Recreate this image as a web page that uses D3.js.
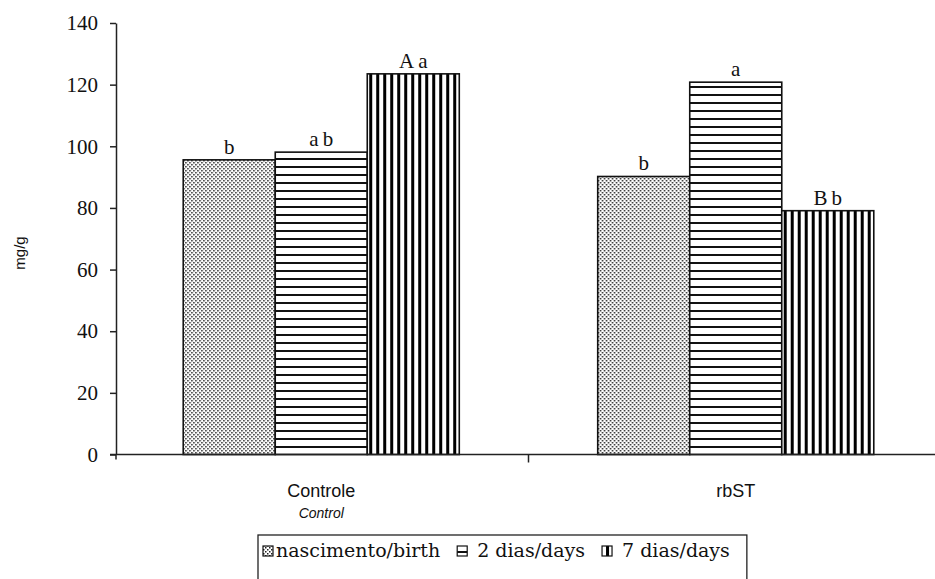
<!DOCTYPE html>
<html>
<head>
<meta charset="utf-8">
<script src="https://cdn.jsdelivr.net/npm/d3@7"></script>
<style>
body { margin: 0; background: #fff; }
.serif { font-family: "Liberation Serif", "DejaVu Serif", serif; }
.wide { font-family: "DejaVu Serif", "Liberation Serif", serif; }
.sans { font-family: "Liberation Sans", Arial, sans-serif; }
</style>
</head>
<body>
<svg id="chart" width="935" height="579"></svg>
<script>
// data
var groups = ["Controle", "rbST"];
var groupsEn = ["Control", ""];
var series = ["nascimento/birth", "2 dias/days", "7 dias/days"];
var birth = [95.6, 90.2];
var days2 = [98.1, 120.8];
var days7 = [123.5, 79.1];
var letters = [["b", "ab", "Aa"], ["b", "a", "Bb"]];
var yTicks = [0, 20, 40, 60, 80, 100, 120, 140];

var svg = d3.select("#chart");
var defs = svg.append("defs");

// fill patterns
var pDots = defs.append("pattern").attr("id", "pDots")
    .attr("patternUnits", "userSpaceOnUse").attr("width", 4).attr("height", 4);
pDots.append("rect").attr("width", 4).attr("height", 4).attr("fill", "#fff");
pDots.append("rect").attr("x", 0).attr("y", 0).attr("width", 1.5).attr("height", 1.5).attr("fill", "#222");
pDots.append("rect").attr("x", 2).attr("y", 2).attr("width", 1.5).attr("height", 1.5).attr("fill", "#222");

var pHor = defs.append("pattern").attr("id", "pHor")
    .attr("patternUnits", "userSpaceOnUse").attr("width", 8).attr("height", 8);
pHor.append("rect").attr("width", 8).attr("height", 8).attr("fill", "#fff");
pHor.append("rect").attr("y", 6).attr("width", 8).attr("height", 2).attr("fill", "#111");

var pVer = defs.append("pattern").attr("id", "pVer")
    .attr("patternUnits", "userSpaceOnUse").attr("width", 7).attr("height", 7);
pVer.append("rect").attr("width", 7).attr("height", 7).attr("fill", "#fff");
pVer.append("rect").attr("x", 4).attr("width", 3).attr("height", 7).attr("fill", "#000");

var fills = ["url(#pDots)", "url(#pHor)", "url(#pVer)"];

var y = d3.scaleLinear().domain([0, 140]).range([454.5, 23]);

var x0 = d3.scaleBand().domain(groups).range([114, 943])
    .paddingInner(0.334).paddingOuter(0.167);
var x1 = d3.scaleBand().domain(series).range([0, x0.bandwidth()]);

var table = groups.map(function(g, i) {
    return {
        group: g,
        values: [birth[i], days2[i], days7[i]].map(function(v, j) {
            return { s: series[j], v: v, lab: letters[i][j], fill: fills[j] };
        })
    };
});

// y axis
var yAxis = svg.append("g").attr("transform", "translate(116,0)")
    .call(d3.axisLeft(y).tickValues(yTicks).tickSize(6).tickSizeOuter(0).tickPadding(12));
yAxis.select(".domain").attr("stroke", "#222").attr("stroke-width", 1.5);
yAxis.selectAll(".tick line").attr("stroke", "#222").attr("stroke-width", 1.5);
yAxis.selectAll(".tick text").attr("class", "serif").attr("font-size", 21).attr("fill", "#111");
yAxis.append("line").attr("x1", 0).attr("x2", 0).attr("y1", y(0)).attr("y2", y(0) + 5)
    .attr("stroke", "#222").attr("stroke-width", 1.5);

// bars
var grp = svg.selectAll("g.grp").data(table).enter()
    .append("g").attr("class", "grp")
    .attr("transform", d => "translate(" + x0(d.group) + ",0)");

grp.selectAll("rect").data(d => d.values).enter()
    .append("rect")
    .attr("x", d => x1(d.s))
    .attr("y", d => y(d.v))
    .attr("width", x1.bandwidth())
    .attr("height", d => y(0) - y(d.v))
    .attr("fill", d => d.fill)
    .attr("stroke", "#111")
    .attr("stroke-width", 1.6);

grp.selectAll("text.lab").data(d => d.values).enter()
    .append("text").attr("class", "lab serif")
    .attr("x", d => x1(d.s) + x1.bandwidth() / 2 + 2)
    .attr("y", d => y(d.v) - 6)
    .attr("text-anchor", "middle")
    .attr("font-size", 21)
    .attr("letter-spacing", 4)
    .attr("fill", "#111")
    .text(d => d.lab);

// x axis
svg.append("line").attr("x1", 110).attr("x2", 935).attr("y1", y(0)).attr("y2", y(0))
    .attr("stroke", "#222").attr("stroke-width", 1.5);
var sep = (x0(groups[0]) + x0.bandwidth() + x0(groups[1])) / 2;
svg.append("line").attr("x1", sep).attr("x2", sep).attr("y1", y(0)).attr("y2", y(0) + 8)
    .attr("stroke", "#222").attr("stroke-width", 1.5);

svg.selectAll("text.cat").data(groups).enter()
    .append("text").attr("class", "cat sans")
    .attr("x", d => x0(d) + x0.bandwidth() / 2)
    .attr("y", 497)
    .attr("text-anchor", "middle")
    .attr("font-size", 18)
    .attr("fill", "#111")
    .text(d => d);

svg.selectAll("text.catEn").data(groupsEn).enter()
    .append("text").attr("class", "catEn sans")
    .attr("x", (d, i) => x0(groups[i]) + x0.bandwidth() / 2)
    .attr("y", 518)
    .attr("text-anchor", "middle")
    .attr("font-size", 14)
    .attr("font-style", "italic")
    .attr("fill", "#111")
    .text(d => d);

// y label
svg.append("text").attr("class", "sans")
    .attr("transform", "translate(25,253) rotate(-90)")
    .attr("text-anchor", "middle")
    .attr("font-size", 15)
    .attr("fill", "#111")
    .text("mg/g");

// legend: items laid out one after another
var legend = svg.append("g").attr("class", "legend");
var box = legend.append("rect").attr("x", 258).attr("y", 535).attr("height", 60)
    .attr("fill", "#fff").attr("stroke", "#222").attr("stroke-width", 1.3);

var cx = 263;
series.forEach(function(s, i) {
    var item = legend.append("g").attr("transform", "translate(" + cx + ",545)");
    item.append("rect").attr("y", 1).attr("width", 10).attr("height", 10)
        .attr("fill", fills[i]).attr("stroke", "#111").attr("stroke-width", 1.2);
    var tx = i === 0 ? 13 : 20;
    var t = item.append("text").attr("class", "wide")
        .attr("x", tx).attr("y", 12)
        .attr("font-size", 19)
        .attr("fill", "#111")
        .text(s);
    cx += tx + t.node().getComputedTextLength() + 17;
});
box.attr("width", cx - 258);
</script>
</body>
</html>
